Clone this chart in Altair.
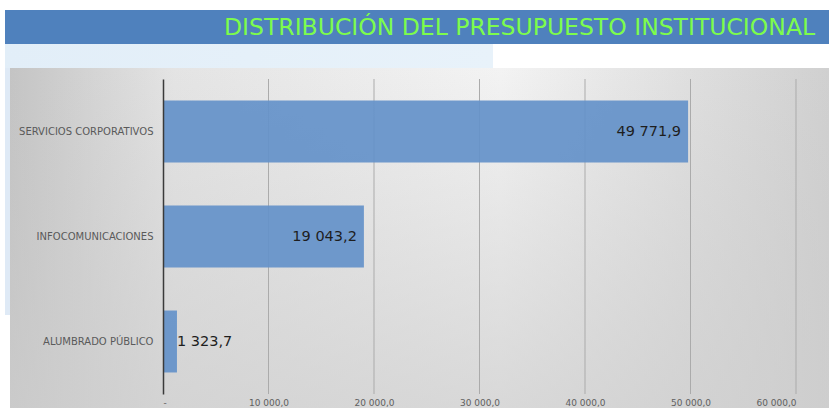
import altair as alt
import pandas as pd

# ---- data ----
categorias = ["SERVICIOS CORPORATIVOS", "INFOCOMUNICACIONES", "ALUMBRADO PÚBLICO"]
valores = [49771.9, 19043.2, 1323.7]
ticks_x = [0, 10000, 20000, 30000, 40000, 50000, 60000]
titulo = "DISTRIBUCIÓN DEL PRESUPUESTO INSTITUCIONAL"

df = pd.DataFrame({"cat": categorias, "valor": valores})
df_ticks = pd.DataFrame({"valor": ticks_x[1:]})
deco = pd.DataFrame({"k": [0]})

W, H = 633, 315
PL, PT, PR, PB = 163, 79, 33, 14
FONT = "DejaVu Sans"

xscale = alt.Scale(domain=[0, 60000], nice=False, zero=True)
yscale = alt.Scale(paddingInner=0.41, paddingOuter=0.205)
xaxis = alt.Axis(
    values=ticks_x,
    format=",.1f",
    labelExpr="datum.value == 0 ? '-' : datum.label",
    grid=False, ticks=False, domain=False, title=None,
    labelFont=FONT, labelFontSize=9, labelColor="#606060",
    labelPadding=4, zindex=1,
)

base_deco = alt.Chart(deco)

frame = base_deco.mark_rect(
    color=alt.LinearGradient(
        gradient="linear", x1=0, x2=1, y1=0, y2=0,
        stops=[
            alt.GradientStop(offset=0, color="#c4c4c4"),
            alt.GradientStop(offset=0.2, color="#e4e4e4"),
            alt.GradientStop(offset=0.6, color="#f3f3f3"),
            alt.GradientStop(offset=1, color="#d0d0d0"),
        ],
    )
).encode(x=alt.value(10 - PL), x2=alt.value(829 - PL), y=alt.value(68 - PT), y2=alt.value(408 - PT))

frame_v = base_deco.mark_rect(
    color=alt.LinearGradient(
        gradient="linear", x1=0, x2=0, y1=0, y2=1,
        stops=[
            alt.GradientStop(offset=0, color="rgba(200,200,200,0)"),
            alt.GradientStop(offset=1, color="rgba(205,205,205,0.7)"),
        ],
    )
).encode(x=alt.value(10 - PL), x2=alt.value(829 - PL), y=alt.value(68 - PT), y2=alt.value(408 - PT))

light_top = base_deco.mark_rect(
    color=alt.LinearGradient(
        gradient="linear", x1=0, x2=1, y1=0, y2=0,
        stops=[
            alt.GradientStop(offset=0, color="#e2eef8"),
            alt.GradientStop(offset=1, color="#e8f2fa"),
        ],
    )
).encode(x=alt.value(5 - PL), x2=alt.value(493 - PL), y=alt.value(44 - PT), y2=alt.value(68 - PT))

light_left = base_deco.mark_rect(color="#dfeaf6").encode(
    x=alt.value(5 - PL), x2=alt.value(10 - PL), y=alt.value(68 - PT), y2=alt.value(315 - PT)
)

band = base_deco.mark_rect(color="#4f81bd").encode(
    x=alt.value(5 - PL), x2=alt.value(829 - PL), y=alt.value(10 - PT), y2=alt.value(44 - PT)
)

title_txt = alt.Chart(pd.DataFrame({"t": [titulo]})).mark_text(
    align="left", baseline="middle", font=FONT, fontSize=23.5, color="#7dfc4c"
).encode(x=alt.value(224 - PL), y=alt.value(28 - PT), text="t:N")

grid = alt.Chart(df_ticks).mark_rule(color="#ababab", strokeWidth=1).encode(
    x=alt.X("valor:Q", scale=xscale, axis=xaxis),
    y=alt.value(0),
    y2=alt.value(H),
)

bars = alt.Chart(df).mark_bar(color="#6592c9", opacity=0.93).encode(
    x=alt.X("valor:Q", scale=xscale, axis=xaxis),
    y=alt.Y(
        "cat:N",
        sort=categorias,
        scale=yscale,
        axis=alt.Axis(
            title=None, ticks=False, domain=True, domainColor="#3a3a3a",
            domainWidth=1.5, labelFont=FONT, labelFontSize=10,
            labelColor="#5a5a5a", labelPadding=10, zindex=1,
        ),
    ),
)

labels_in = alt.Chart(df).transform_filter("datum.valor > 5000").mark_text(
    align="right", baseline="middle", dx=-7, font=FONT, fontSize=14.5, color="#1e1e1e"
).encode(
    x=alt.X("valor:Q", scale=xscale, axis=xaxis),
    y=alt.Y("cat:N", sort=categorias, scale=yscale),
    text=alt.Text("valor:Q", format=",.1f"),
)

labels_out = alt.Chart(df).transform_filter("datum.valor <= 5000").mark_text(
    align="left", baseline="middle", dx=0, font=FONT, fontSize=14.5, color="#1e1e1e"
).encode(
    x=alt.X("valor:Q", scale=xscale, axis=xaxis),
    y=alt.Y("cat:N", sort=categorias, scale=yscale),
    text=alt.Text("valor:Q", format=",.1f"),
)

chart = alt.layer(
    frame, frame_v, light_top, light_left, band, title_txt, grid, bars, labels_in, labels_out
).properties(
    width=W, height=H,
    autosize=alt.AutoSizeParams(type="none"),
    padding={"left": PL, "top": PT, "right": PR, "bottom": PB},
    background="white",
).configure_view(stroke=None).configure(
    locale=alt.Locale(
        number=alt.NumberLocale(decimal=",", thousands=" ", grouping=[3], currency=["", ""])
    )
)

chart.save("out.html", embed_options={"renderer": "svg", "actions": False})
